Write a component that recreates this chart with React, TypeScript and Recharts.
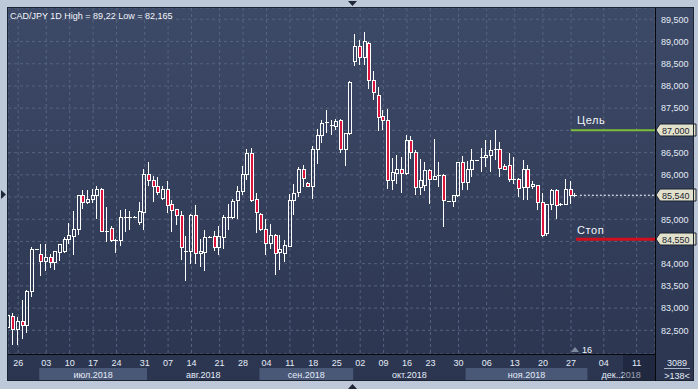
import React from 'react'
import { Bar, CartesianGrid, ComposedChart, ReferenceLine, XAxis, YAxis } from 'recharts'

// CAD/JPY daily candles, 22 Jun – 28 Nov 2018
const opens = [
  82.58, 82.82, 82.53, 82.7, 82.63, 83.38, 84.32, 84.21, 84.06, 84.15,
  84.04, 84.26, 84.29, 84.56, 84.62, 84.79, 85.55, 85.39, 85.45, 85.55,
  85.69, 84.72, 84.81, 84.53, 84.53, 85.04, 85.05, 85.05, 84.94, 85.17,
  86.01, 85.89, 85.74, 85.48, 85.67, 85.34, 85.22, 85.1, 84.28, 84.28,
  85.1, 84.25, 84.26, 84.59, 84.62, 84.38, 84.6, 85.05, 85.05, 85.44,
  85.64, 86.01, 86.5, 85.46, 85.11, 84.79, 84.47, 84.64, 84.26, 84.23,
  84.39, 85.43, 85.61, 86.12, 85.82, 85.74, 86.59, 86.89, 87.17, 87.13,
  87.09, 87.23, 86.59, 86.93, 88.56, 88.91, 88.64, 88.97, 88.13, 87.79,
  87.33, 87.24, 85.88, 86.05, 86.14, 86.04, 86.79, 86.51, 85.73, 85.78,
  86.11, 85.91, 85.99, 86.0, 85.41, 85.41, 85.54, 86.29, 85.84, 86.12,
  86.33, 86.38, 86.39, 86.44, 86.58, 86.59, 86.19, 86.21, 85.9, 85.91,
  85.73, 86.12, 85.74, 85.76, 85.39, 84.68, 85.34, 85.66, 85.31, 85.35,
  85.69, 85.55,
]
const highs = [
  82.9, 82.88, 82.8, 83.18, 83.4, 84.38, 84.34, 84.44, 84.44, 84.21,
  84.28, 84.45, 84.6, 84.92, 85.18, 85.55, 85.65, 85.65, 85.69, 85.74,
  85.71, 85.28, 84.85, 84.56, 85.2, 85.22, 85.18, 85.07, 85.39, 86.12,
  86.29, 85.97, 85.95, 85.74, 85.85, 85.44, 85.24, 85.18, 84.62, 85.12,
  85.31, 84.56, 84.75, 84.62, 84.74, 84.84, 85.09, 85.34, 85.46, 85.75,
  86.2, 86.58, 86.6, 85.6, 85.14, 85.0, 84.9, 84.66, 84.64, 84.54,
  85.56, 85.8, 86.18, 86.23, 85.84, 86.64, 87.02, 87.24, 87.45, 87.24,
  87.25, 87.25, 86.93, 88.1, 89.18, 89.03, 89.22, 88.99, 88.33, 87.98,
  87.45, 87.47, 86.37, 86.44, 86.4, 86.89, 86.87, 86.55, 86.36, 86.29,
  86.14, 86.81, 86.29, 86.01, 85.42, 85.55, 86.29, 86.42, 86.3, 86.59,
  86.34, 86.6, 86.78, 86.78, 87.0, 86.74, 86.25, 86.49, 86.4, 85.92,
  86.33, 86.21, 85.85, 85.77, 85.58, 85.35, 85.69, 85.69, 85.37, 85.9,
  85.87, 85.58,
]
const lows = [
  82.45, 82.165, 82.18, 82.31, 82.45, 83.25, 84.3, 83.72, 83.84, 83.9,
  83.85, 84.06, 84.24, 84.45, 84.19, 84.64, 85.22, 85.34, 85.37, 85.0,
  84.72, 84.49, 84.49, 84.24, 84.4, 84.71, 84.75, 85.03, 84.86, 84.75,
  85.74, 85.39, 85.54, 85.44, 85.13, 84.71, 84.86, 84.09, 83.61, 84.0,
  84.0, 83.93, 83.84, 84.57, 84.29, 84.19, 84.34, 84.75, 85.0, 85.0,
  85.54, 85.88, 85.39, 84.68, 84.74, 84.19, 84.34, 83.74, 83.85, 84.04,
  84.38, 85.09, 85.49, 85.73, 85.72, 85.46, 86.25, 86.72, 86.93, 86.89,
  87.0, 86.49, 86.2, 86.89, 88.44, 88.46, 88.46, 87.93, 87.68, 86.98,
  87.0, 85.67, 85.65, 85.8, 85.58, 85.99, 86.36, 85.55, 85.55, 85.64,
  85.35, 85.91, 85.73, 84.83, 85.4, 85.28, 85.5, 85.65, 85.65, 85.94,
  86.32, 86.07, 86.18, 86.07, 86.33, 85.94, 86.12, 85.84, 85.8, 85.5,
  85.43, 85.43, 85.69, 85.2, 84.6, 84.62, 85.2, 85.01, 85.29, 85.34,
  85.35, 85.5,
]
const closes = [
  82.85, 82.53, 82.7, 82.63, 83.38, 84.33, 84.33, 84.06, 84.15, 84.04,
  84.28, 84.44, 84.56, 84.64, 84.79, 85.55, 85.39, 85.46, 85.55, 85.67,
  84.73, 84.74, 84.53, 84.54, 85.04, 85.06, 85.06, 85.06, 85.18, 86.01,
  85.88, 85.74, 85.61, 85.67, 85.33, 85.2, 85.1, 84.38, 84.29, 85.1,
  84.25, 84.28, 84.59, 84.6, 84.38, 84.62, 85.04, 85.06, 85.4, 85.64,
  86.01, 86.5, 85.43, 85.17, 84.79, 84.47, 84.64, 84.24, 84.34, 84.41,
  85.43, 85.6, 86.12, 85.93, 85.74, 86.59, 86.89, 87.17, 87.18, 87.09,
  87.2, 86.57, 86.93, 88.09, 88.91, 88.64, 89.01, 88.13, 87.87, 87.3,
  87.24, 85.89, 86.06, 86.12, 86.03, 86.79, 86.51, 85.73, 85.89, 86.1,
  85.91, 85.97, 86.0, 85.43, 85.41, 85.55, 86.29, 85.84, 86.12, 86.33,
  86.33, 86.39, 86.44, 86.55, 86.59, 86.16, 86.14, 85.9, 85.91, 85.71,
  86.12, 85.73, 85.8, 85.39, 84.64, 85.35, 85.66, 85.31, 85.34, 85.69,
  85.55, 85.54,
]

// weekly date ticks (bar index -> day label)
const dateTickIdx = [2, 8, 13, 18, 23, 29, 34, 39, 45, 50, 55, 60, 65, 70, 75, 80, 85, 90, 96, 102, 108, 114, 120, 127, 134]
const dateTickLabels = ['26', '03', '10', '17', '24', '31', '07', '14', '21', '28', '04', '11', '18', '25', '02', '09', '16', '23', '30', '06', '13', '20', '27', '04', '11']

const months = ['июл.2018', 'авг.2018', 'сен.2018', 'окт.2018', 'ноя.2018', 'дек..2018']
const monthStartIdx = [7, 30, 54, 74, 98, 124]
const monthShaded = [true, false, true, false, true, false]

const priceTicks = [82.5, 83, 83.5, 84, 84.5, 85, 85.5, 86, 86.5, 87, 87.5, 88, 88.5, 89, 89.5]
// tick labels covered by the price tags on the right axis
const hiddenTickLabels = [87, 85.5, 84.5]

const targetLevel = 87.0
const stopLevel = 84.55
const lastPrice = 85.54

const data = opens.map((o, i) => ({
  i,
  o,
  h: highs[i],
  l: lows[i],
  c: closes[i],
  range: [lows[i], highs[i]],
}))

const W = 698
const H = 389
const FONT = "'Liberation Sans', Arial, sans-serif"
const TXT = '#e4ecf7'
const RED = '#dc143c'
const X_DOMAIN: [number, number] = [-0.171, 137.93]
const Y_DOMAIN: [number, number] = [81.967, 89.754]
// pixel position of a bar index (same mapping as the x axis), used for month bands
const xOf = (i: number) => 8 + ((i - X_DOMAIN[0]) / (X_DOMAIN[1] - X_DOMAIN[0])) * 647

const fmt = (v: number) => v.toFixed(3).replace('.', ',')

function Candle(props: any) {
  const { x, y, width, height, payload } = props
  if (!payload || typeof x !== 'number' || typeof y !== 'number') return null
  const { o, c, h, l } = payload
  const yTop = Math.min(y, y + height)
  const span = Math.abs(height)
  const k = h > l ? span / (h - l) : 0
  const py = (v: number) => yTop + (h - v) * k
  const cx = Math.round(x + width / 2)
  const wx = cx - 0.5
  const hiY = Math.round(yTop)
  const loY = Math.round(yTop + span)
  const bTop = Math.round(py(Math.max(o, c)))
  const bBot = Math.round(py(Math.min(o, c)))
  if (bBot - bTop < 2) {
    return (
      <g>
        <line x1={wx} x2={wx} y1={hiY} y2={loY} stroke="#fff" />
        <line x1={cx - 2} x2={cx + 2} y1={bTop + 0.5} y2={bTop + 0.5} stroke="#fff" />
      </g>
    )
  }
  return (
    <g>
      <line x1={wx} x2={wx} y1={hiY} y2={bTop} stroke="#fff" />
      <line x1={wx} x2={wx} y1={bBot} y2={loY} stroke="#fff" />
      <rect
        x={cx - 1.5}
        y={bTop + 0.5}
        width={3}
        height={bBot - bTop}
        fill={c >= o ? 'none' : RED}
        stroke="#fff"
      />
    </g>
  )
}

function LevelLabel(props: any) {
  const { viewBox, caption, captionDy, tag } = props
  if (!viewBox) return null
  const x1 = viewBox.x + viewBox.width
  const yy = Math.round(viewBox.y)
  return (
    <g>
      {caption && (
        <text x={577} y={yy + captionDy} fill="#f2f5fa" fontSize={11} fontFamily={FONT} letterSpacing={0.6}>
          {caption}
        </text>
      )}
      <polygon
        points={`${x1 + 1},${yy} ${x1 + 5},${yy - 6} ${x1 + 41},${yy - 6} ${x1 + 41},${yy + 6} ${x1 + 5},${yy + 6}`}
        fill="#e2e2cc"
        stroke="#1b2230"
      />
      <text x={x1 + 7} y={yy + 3.5} fill="#1b2330" fontSize={9} fontFamily={FONT}>
        {tag}
      </text>
    </g>
  )
}

function PriceTick(props: any) {
  const { y, payload } = props
  if (hiddenTickLabels.includes(payload.value)) return null
  return (
    <text x={661} y={y + 3.3} fill={TXT} fontSize={9} fontFamily={FONT}>
      {fmt(payload.value)}
    </text>
  )
}

function DateTick(props: any) {
  const { x, payload } = props
  const k = dateTickIdx.indexOf(payload.value)
  return (
    <text x={x} y={366} fill={TXT} fontSize={9} fontFamily={FONT} textAnchor="middle">
      {k >= 0 ? dateTickLabels[k] : ''}
    </text>
  )
}

export default function App() {
  return (
    <div
      style={{
        position: 'absolute',
        left: 0,
        top: 0,
        width: W,
        height: H,
        overflow: 'hidden',
        background: '#bdc8d8',
        fontFamily: FONT,
      }}
    >
      <div
        style={{
          position: 'absolute',
          left: 7,
          top: 7,
          width: 687,
          height: 374,
          background: 'linear-gradient(#3d4a67, #2b3550)',
        }}
      />
      <svg width={W} height={H} style={{ position: 'absolute', left: 0, top: 0 }}>
        {months.map((m, k) => {
          const x1 = xOf(monthStartIdx[k] - 0.5)
          const x2 = k + 1 < months.length ? xOf(monthStartIdx[k + 1] - 0.5) : 655
          return (
            <g key={m}>
              {monthShaded[k] && <rect x={x1} y={368} width={x2 - x1} height={13} fill="#4a5877" />}
              <text x={(x1 + x2) / 2} y={377.5} fill={TXT} fontSize={9} fontFamily={FONT} textAnchor="middle">
                {m}
              </text>
            </g>
          )
        })}
        <rect x={623} y={355} width={32} height={26} fill="rgba(12,18,34,0.35)" />
      </svg>
      <div style={{ position: 'absolute', left: 0, top: 0 }}>
        <ComposedChart width={W} height={H} data={data} margin={{ top: 8, right: 0, bottom: 0, left: 8 }}>
          <CartesianGrid stroke="#56637f" strokeDasharray="3 3" />
          <XAxis
            dataKey="i"
            type="number"
            domain={X_DOMAIN}
            allowDataOverflow
            ticks={dateTickIdx}
            interval={0}
            height={35}
            axisLine={false}
            tickLine={false}
            tick={(p: any) => <DateTick {...p} />}
          />
          <YAxis
            orientation="right"
            type="number"
            domain={Y_DOMAIN}
            allowDataOverflow
            ticks={priceTicks}
            interval={0}
            width={43}
            axisLine={false}
            tickLine={false}
            tick={(p: any) => <PriceTick {...p} />}
          />
          <Bar dataKey="range" shape={(p: any) => <Candle {...p} />} barSize={4} isAnimationActive={false} />
          <ReferenceLine
            segment={[
              { x: 121.9, y: lastPrice },
              { x: X_DOMAIN[1], y: lastPrice },
            ]}
            stroke="#ffffff"
            strokeDasharray="2 2"
            label={(p: any) => <LevelLabel {...p} tag={fmt(lastPrice)} />}
          />
          <ReferenceLine
            segment={[
              { x: 120, y: targetLevel },
              { x: X_DOMAIN[1], y: targetLevel },
            ]}
            stroke="#7cbd3a"
            strokeWidth={2}
            label={(p: any) => <LevelLabel {...p} caption="Цель" captionDy={-6} tag={fmt(targetLevel)} />}
          />
          <ReferenceLine
            segment={[
              { x: 121.07, y: stopLevel },
              { x: X_DOMAIN[1], y: stopLevel },
            ]}
            stroke="#d0101e"
            strokeWidth={3}
            label={(p: any) => <LevelLabel {...p} caption="Стоп" captionDy={-5} tag={fmt(stopLevel)} />}
          />
        </ComposedChart>
      </div>
      <svg width={W} height={H} style={{ position: 'absolute', left: 0, top: 0, pointerEvents: 'none' }}>
        <rect x={7.5} y={7.5} width={686} height={373} fill="none" stroke="#1c2331" />
        <line x1={655.5} x2={655.5} y1={8} y2={381} stroke="#06080c" />
        <line x1={8} x2={655} y1={354.5} y2={354.5} stroke="#06080c" />
        <text x={10} y={18.5} fill="#f2f5fa" fontSize={9} fontFamily={FONT}>
          CAD/JPY 1D High = 89,22 Low = 82,165
        </text>
        <polygon points="571,352 579,352 575,347" fill="#7e8aa0" />
        <text x={582} y={352.5} fill="#f2f5fa" fontSize={9} fontFamily={FONT}>
          16
        </text>
        <text x={677} y={366} fill={TXT} fontSize={9} fontFamily={FONT} textAnchor="middle">
          3089
        </text>
        <line x1={664} x2={690} y1={368.5} y2={368.5} stroke="#aab6c8" />
        <text x={677} y={378.5} fill={TXT} fontSize={9} fontFamily={FONT} textAnchor="middle">
          {'>138<'}
        </text>
        <polygon points="348,1 357,1 352.5,6" fill="#1f2736" />
        <polygon points="348,389 357,389 352.5,384" fill="#1f2736" />
        <polygon points="1,190 1,199 6,194.5" fill="#1f2736" />
      </svg>
    </div>
  )
}
